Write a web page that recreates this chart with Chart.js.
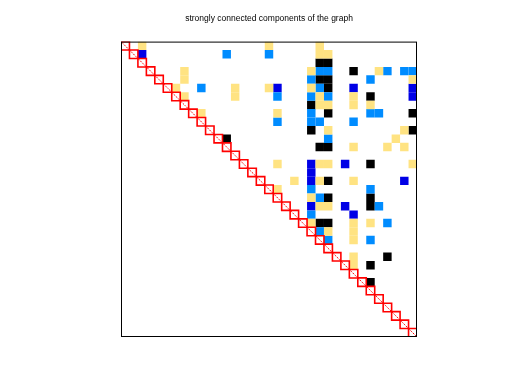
<!DOCTYPE html>
<html>
<head>
<meta charset="utf-8">
<script src="https://cdn.jsdelivr.net/npm/chart.js@4"></script>
<style>
  body { margin: 0; background: #fff; }
  canvas { display: block; }
</style>
</head>
<body>
<canvas id="sccChart" width="512" height="384"></canvas>
<script>
const titleText = 'strongly connected components of the graph';
const n = 35;
// each strongly connected block on the diagonal (all singletons)
const blockSizes = Array(35).fill(1);

// nonzeros as [row, col], grouped by colour
const yellowCells = [
  [0, 2], [0, 17], [0, 23], [1, 23], [1, 24],
  [3, 7], [3, 22], [3, 30], [4, 7], [4, 34],
  [5, 6], [5, 13], [5, 17], [5, 22],
  [6, 7], [6, 13], [6, 23], [6, 27],
  [7, 23], [7, 24], [7, 27], [7, 29],
  [8, 9], [8, 18], [10, 24], [10, 33], [11, 32],
  [12, 27], [12, 31], [12, 33],
  [14, 18], [14, 23], [14, 24], [14, 34],
  [16, 20], [16, 23], [16, 27], [17, 18], [18, 22],
  [19, 23], [19, 24], [21, 22], [21, 27], [21, 29],
  [22, 24], [22, 27], [23, 27], [25, 27], [26, 27]
];
const lightBlueCells = [
  [1, 12], [1, 17], [3, 23], [3, 24], [3, 31], [3, 33], [3, 34],
  [4, 22], [4, 29], [5, 9], [5, 23], [6, 18], [6, 22], [6, 24],
  [8, 22], [8, 29], [8, 30], [9, 18], [9, 22], [9, 23], [9, 27],
  [11, 24], [17, 22], [17, 29], [18, 23], [19, 30], [20, 22],
  [21, 31], [22, 23], [23, 24], [23, 29]
];
const blueCells = [
  [1, 2], [5, 18], [5, 27], [5, 34], [6, 34], [14, 22], [14, 26],
  [15, 22], [16, 22], [16, 33], [19, 22], [19, 26], [20, 27]
];
const blackCells = [
  [2, 23], [2, 24], [3, 27], [4, 23], [4, 24], [5, 24], [6, 29],
  [7, 22], [8, 24], [8, 34], [10, 22], [10, 34], [11, 12],
  [12, 23], [12, 24], [14, 29], [16, 24], [18, 24], [18, 29],
  [19, 29], [21, 23], [21, 24], [25, 31], [26, 29], [28, 29]
];

// cell size in pixels, from the x scale
function cellPx(chart) {
  const sx = chart.scales.x;
  return sx.getPixelForValue(1) - sx.getPixelForValue(0);
}

function cellSet(label, cells, color) {
  const ds = {
    label: label,
    pointStyle: 'rect',
    radius: ctx => cellPx(ctx.chart) / Math.SQRT2,
    backgroundColor: color,
    borderWidth: 0,
    order: 3
  };
  ds.data = cells.map(c => ({ x: c[1] + 0.5, y: c[0] + 0.5 }));
  return ds;
}

// diagonal blocks
let start = 0;
const blockPoints = [];
blockSizes.forEach(s => {
  blockPoints.push({ x: start + s / 2, y: start + s / 2, s: s });
  start += s;
});

const blockSet = {
  label: 'blocks',
  pointStyle: 'rect',
  radius: ctx => cellPx(ctx.chart) * (ctx.raw ? ctx.raw.s : 1) / Math.SQRT2,
  backgroundColor: 'rgba(0,0,0,0)',
  borderColor: '#ff0000',
  borderWidth: 1.6,
  order: 2
};
blockSet.data = blockPoints;

const diagSet = {
  label: 'diagonal',
  type: 'line',
  borderColor: '#ff0000',
  borderWidth: 1,
  borderDash: [1.5, 1],
  pointRadius: 0,
  order: 1
};
diagSet.data = [{ x: 0, y: 0 }, { x: n, y: n }];

const frameBox = {
  id: 'frameBox',
  afterDraw(chart) {
    const a = chart.chartArea;
    const ctx = chart.ctx;
    ctx.save();
    ctx.strokeStyle = '#000';
    ctx.lineWidth = 1;
    ctx.strokeRect(a.left + 0.5, a.top + 0.5, a.right - a.left - 1, a.bottom - a.top - 1);
    ctx.restore();
  }
};

const config = {
  type: 'scatter',
  options: {
    responsive: false,
    animation: false,
    events: [],
    layout: { padding: { left: 121, right: 95, top: 10, bottom: 47 } },
    scales: {
      x: { type: 'linear', min: 0, max: n, display: false },
      y: { type: 'linear', min: 0, max: n, reverse: true, display: false }
    },
    plugins: {
      legend: { display: false },
      tooltip: { enabled: false },
      title: {
        display: true,
        text: titleText,
        color: '#000',
        font: { family: 'Liberation Sans', size: 8.5, weight: 'normal' },
        padding: { top: 4, bottom: 17.4 }
      }
    }
  },
  plugins: [frameBox]
};
config.data = {
  datasets: [
    cellSet('yellow', yellowCells, '#ffe382'),
    cellSet('light blue', lightBlueCells, '#008cff'),
    cellSet('blue', blueCells, '#0000e6'),
    cellSet('black', blackCells, '#000000'),
    blockSet,
    diagSet
  ]
};

new Chart(document.getElementById('sccChart'), config);
</script>
</body>
</html>
